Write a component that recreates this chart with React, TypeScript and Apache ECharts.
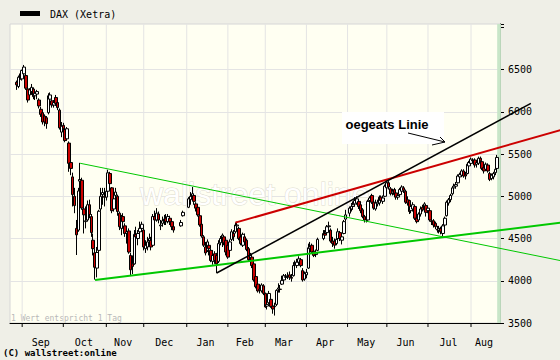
import React, { useEffect, useRef } from 'react';
import * as echarts from 'echarts';

// ---------- axis / labels ----------
const monthNames = ['Jan', 'Feb', 'Mar', 'Apr', 'May', 'Jun', 'Jul', 'Aug', 'Sep', 'Oct', 'Nov', 'Dec'];
const axisStart = '2008-08-22';
const axisEnd = '2009-08-24';
const labelledMonths = ['2008-09', '2008-10', '2008-11', '2008-12', '2009-01', '2009-02', '2009-03', '2009-04', '2009-05', '2009-06', '2009-07', '2009-08'];
const yMin = 3500;
const yMax = 7040;
const yStep = 500;
const yLabelMax = 6500;

// ---------- DAX (Xetra) daily candles: [day, open, close, low, high] ----------
type Row = [number, number, number, number, number];
const aug2008: Row[] = [
  [27, 6350, 6320, 6260, 6370], [28, 6300, 6410, 6280, 6430], [29, 6450, 6400, 6380, 6470],
];
const sep2008: Row[] = [
  [1, 6390, 6490, 6370, 6500], [2, 6450, 6530, 6430, 6555], [3, 6430, 6280, 6260, 6450], [4, 6270, 6140, 6110, 6290],
  [5, 6200, 6260, 6150, 6280], [8, 6240, 6290, 6200, 6330], [9, 6270, 6180, 6150, 6290], [10, 6190, 6220, 6140, 6250],
  [11, 6210, 6240, 6150, 6260], [12, 6140, 6070, 6040, 6160], [15, 6030, 5970, 5940, 6060], [16, 5990, 5880, 5850, 6010],
  [17, 5950, 5880, 5830, 5970], [18, 5930, 5860, 5800, 5950], [19, 5990, 6190, 5970, 6220], [22, 6150, 6200, 6080, 6230],
  [23, 6130, 6080, 6050, 6150], [24, 6080, 6110, 6050, 6140], [25, 6170, 6100, 6070, 6200], [26, 6110, 6050, 6020, 6130],
  [29, 6020, 5810, 5790, 6040], [30, 5760, 5830, 5700, 5880],
];
const oct2008: Row[] = [
  [1, 5840, 5800, 5750, 5870], [2, 5790, 5660, 5640, 5810], [3, 5680, 5800, 5660, 5820], [6, 5630, 5390, 5290, 5650],
  [7, 5400, 5330, 5250, 5480], [8, 5230, 5020, 4880, 5280], [9, 5000, 4890, 4800, 5100], [10, 4620, 4544, 4305, 4720],
  [13, 4600, 5063, 4580, 5100], [14, 5180, 5199, 5050, 5396], [15, 5190, 4861, 4840, 5220], [16, 4850, 4781, 4560, 4900],
  [17, 4700, 4710, 4620, 4880], [20, 4720, 4900, 4700, 4950], [21, 4900, 4784, 4740, 4960], [22, 4760, 4571, 4520, 4790],
  [23, 4480, 4380, 4300, 4560], [24, 4330, 4160, 4014, 4380], [27, 4150, 4335, 4040, 4400], [28, 4360, 4823, 4330, 4840],
  [29, 4850, 5000, 4820, 5100], [30, 5020, 5045, 4900, 5100], [31, 5000, 4988, 4880, 5100],
];
const nov2008: Row[] = [
  [3, 4990, 5060, 4950, 5140], [4, 5060, 5278, 5020, 5315], [5, 5270, 5150, 5080, 5290], [6, 5100, 4830, 4800, 5110],
  [7, 4850, 4970, 4820, 5000], [10, 5010, 5050, 4950, 5100], [11, 5000, 4820, 4770, 5020], [12, 4800, 4640, 4600, 4820],
  [13, 4620, 4750, 4540, 4780], [14, 4760, 4700, 4620, 4800], [17, 4650, 4560, 4520, 4680], [18, 4560, 4580, 4440, 4620],
  [19, 4590, 4340, 4320, 4620], [20, 4300, 4130, 4060, 4330], [21, 4200, 4170, 4080, 4300], [24, 4200, 4550, 4190, 4600],
  [25, 4550, 4520, 4450, 4640], [26, 4500, 4560, 4420, 4600], [27, 4580, 4620, 4550, 4700], [28, 4620, 4669, 4580, 4700],
];
const dec2008: Row[] = [
  [1, 4600, 4400, 4360, 4630], [2, 4380, 4420, 4330, 4480], [3, 4400, 4460, 4360, 4520], [4, 4470, 4500, 4420, 4560],
  [5, 4480, 4400, 4360, 4520], [8, 4420, 4760, 4410, 4790], [9, 4760, 4720, 4660, 4830], [10, 4720, 4800, 4700, 4860],
  [11, 4790, 4720, 4680, 4820], [12, 4650, 4660, 4600, 4720], [15, 4680, 4710, 4640, 4760], [16, 4700, 4730, 4660, 4780],
  [17, 4740, 4700, 4660, 4790], [18, 4700, 4760, 4680, 4790], [19, 4740, 4700, 4660, 4770], [22, 4700, 4640, 4600, 4720],
  [23, 4640, 4600, 4570, 4680], [29, 4650, 4690, 4640, 4720], [30, 4770, 4810, 4760, 4830],
];
const jan2009: Row[] = [
  [2, 4870, 4970, 4860, 4990], [5, 4960, 5000, 4900, 5050], [6, 4990, 5030, 4960, 5110], [7, 5010, 4940, 4900, 5030],
  [8, 4910, 4860, 4820, 4930], [9, 4870, 4780, 4760, 4890], [12, 4770, 4660, 4640, 4790], [13, 4670, 4530, 4510, 4690],
  [14, 4520, 4420, 4400, 4540], [15, 4400, 4330, 4300, 4460], [16, 4360, 4460, 4340, 4490], [19, 4420, 4380, 4300, 4460],
  [20, 4360, 4240, 4220, 4380], [21, 4230, 4300, 4190, 4360], [22, 4320, 4240, 4200, 4350], [23, 4300, 4200, 4090, 4330],
  [26, 4230, 4440, 4210, 4480], [27, 4450, 4500, 4420, 4530], [28, 4460, 4540, 4400, 4560], [29, 4520, 4450, 4420, 4540],
  [30, 4480, 4340, 4300, 4490],
];
const feb2009: Row[] = [
  [2, 4420, 4280, 4260, 4450], [3, 4360, 4460, 4340, 4490], [4, 4490, 4580, 4470, 4610], [5, 4560, 4520, 4470, 4600],
  [6, 4580, 4660, 4560, 4690], [9, 4650, 4660, 4600, 4700], [10, 4620, 4500, 4480, 4640], [11, 4520, 4440, 4420, 4560],
  [12, 4420, 4550, 4400, 4570], [13, 4520, 4460, 4440, 4560], [16, 4480, 4370, 4350, 4500], [17, 4380, 4250, 4230, 4400],
  [18, 4240, 4300, 4200, 4330], [19, 4280, 4180, 4150, 4320], [20, 4200, 4010, 3990, 4240], [23, 4050, 3930, 3910, 4070],
  [24, 3960, 3880, 3860, 3980], [25, 3890, 3900, 3850, 3960], [26, 3880, 3950, 3860, 3970], [27, 3940, 3850, 3830, 3960],
];
const mar2009: Row[] = [
  [2, 3850, 3690, 3680, 3860], [3, 3700, 3720, 3660, 3780], [4, 3740, 3850, 3720, 3880], [5, 3780, 3695, 3680, 3800],
  [6, 3700, 3666, 3610, 3730], [9, 3700, 3693, 3588, 3740], [10, 3720, 3886, 3700, 3900], [11, 3900, 3915, 3860, 3970],
  [12, 3900, 3898, 3860, 3950], [13, 3960, 4002, 3950, 4060], [16, 4010, 4060, 3990, 4080], [17, 4040, 4050, 4010, 4080],
  [18, 4050, 4060, 4020, 4100], [19, 4070, 4040, 4010, 4110], [20, 4040, 4030, 3990, 4080], [23, 4060, 4180, 4050, 4220],
  [24, 4190, 4200, 4150, 4240], [25, 4180, 4220, 4150, 4260], [26, 4220, 4260, 4200, 4290], [27, 4250, 4180, 4160, 4270],
  [30, 4120, 4010, 3990, 4150], [31, 4020, 4084, 4000, 4110],
];
const apr2009: Row[] = [
  [1, 4070, 4100, 4030, 4140], [2, 4150, 4390, 4140, 4440], [3, 4380, 4400, 4340, 4460], [6, 4420, 4340, 4320, 4440],
  [7, 4350, 4300, 4280, 4380], [8, 4310, 4330, 4280, 4370], [9, 4360, 4490, 4350, 4510], [14, 4500, 4560, 4480, 4600],
  [15, 4560, 4540, 4500, 4600], [16, 4570, 4640, 4550, 4660], [17, 4640, 4650, 4600, 4700], [20, 4600, 4470, 4450, 4620],
  [21, 4470, 4440, 4400, 4520], [22, 4470, 4420, 4380, 4500], [23, 4440, 4490, 4420, 4520], [24, 4500, 4580, 4480, 4620],
  [27, 4570, 4500, 4470, 4590], [28, 4480, 4520, 4430, 4560], [29, 4560, 4700, 4550, 4720], [30, 4730, 4780, 4700, 4840],
];
const may2009: Row[] = [
  [4, 4800, 4860, 4760, 4880], [5, 4850, 4880, 4820, 4920], [6, 4880, 4900, 4840, 4940], [7, 4910, 4950, 4880, 4990],
  [8, 4920, 4970, 4900, 5000], [11, 4940, 4880, 4850, 4960], [12, 4900, 4830, 4800, 4920], [13, 4840, 4760, 4740, 4860],
  [14, 4760, 4720, 4690, 4780], [15, 4740, 4737, 4690, 4780], [18, 4720, 4940, 4710, 4960], [19, 4950, 4980, 4920, 5000],
  [20, 5010, 4930, 4910, 5030], [21, 4930, 4860, 4840, 4950], [22, 4850, 4920, 4830, 4960], [25, 4910, 4930, 4880, 4960],
  [26, 4920, 4990, 4890, 5010], [27, 4990, 4950, 4930, 5010], [28, 4940, 4980, 4910, 5010], [29, 5000, 5120, 4990, 5140],
];
const jun2009: Row[] = [
  [1, 5100, 5160, 5080, 5190], [2, 5160, 5110, 5080, 5180], [3, 5090, 5030, 5010, 5110], [4, 5040, 5060, 5010, 5090],
  [5, 5080, 5020, 5000, 5100], [8, 5040, 4990, 4960, 5060], [9, 4990, 5010, 4960, 5040], [10, 5020, 5080, 5000, 5100],
  [11, 5060, 5110, 5040, 5130], [12, 5100, 5070, 5040, 5120], [15, 5060, 4930, 4910, 5080], [16, 4960, 4920, 4890, 5000],
  [17, 4950, 4820, 4790, 4960], [18, 4830, 4880, 4800, 4900], [19, 4850, 4900, 4820, 4930], [22, 4880, 4740, 4720, 4890],
  [23, 4740, 4700, 4680, 4770], [24, 4720, 4790, 4700, 4810], [25, 4790, 4850, 4760, 4880], [26, 4870, 4840, 4820, 4900],
  [29, 4840, 4910, 4820, 4930], [30, 4890, 4810, 4760, 4910],
];
const jul2009: Row[] = [
  [1, 4830, 4860, 4800, 4890], [2, 4830, 4720, 4700, 4840], [3, 4710, 4700, 4660, 4740], [6, 4710, 4660, 4630, 4730],
  [7, 4680, 4640, 4610, 4700], [8, 4610, 4600, 4570, 4650], [9, 4600, 4620, 4560, 4650], [10, 4620, 4580, 4550, 4640],
  [13, 4560, 4650, 4525, 4670], [14, 4660, 4740, 4640, 4760], [15, 4770, 4930, 4760, 4950], [16, 4920, 4960, 4890, 4980],
  [17, 4960, 5010, 4930, 5030], [20, 5030, 5100, 5010, 5120], [21, 5100, 5120, 5060, 5150], [22, 5120, 5140, 5090, 5170],
  [23, 5160, 5240, 5150, 5260], [24, 5230, 5260, 5200, 5280], [27, 5250, 5300, 5230, 5320], [28, 5300, 5240, 5220, 5320],
  [29, 5260, 5240, 5200, 5290], [30, 5270, 5380, 5260, 5400], [31, 5360, 5400, 5330, 5420],
];
const aug2009: Row[] = [
  [3, 5390, 5440, 5370, 5460], [4, 5430, 5420, 5390, 5450], [5, 5430, 5370, 5340, 5450], [6, 5380, 5400, 5340, 5430],
  [7, 5390, 5450, 5370, 5470], [10, 5450, 5420, 5400, 5470], [11, 5410, 5330, 5310, 5420], [12, 5340, 5300, 5270, 5370],
  [13, 5320, 5380, 5300, 5400], [14, 5370, 5300, 5280, 5390], [17, 5270, 5200, 5180, 5290], [18, 5210, 5250, 5190, 5270],
  [19, 5230, 5270, 5200, 5290], [20, 5280, 5320, 5250, 5340], [21, 5330, 5460, 5300, 5490],
];
const candleMonths: [string, Row[]][] = [
  ['2008-08', aug2008], ['2008-09', sep2008], ['2008-10', oct2008], ['2008-11', nov2008], ['2008-12', dec2008],
  ['2009-01', jan2009], ['2009-02', feb2009], ['2009-03', mar2009], ['2009-04', apr2009], ['2009-05', may2009],
  ['2009-06', jun2009], ['2009-07', jul2009], ['2009-08', aug2009],
];

// ---------- hand-drawn trend lines: [weekday index, DAX value] ----------
const trendUpperGreen = [[36.9, 5391], [293.6, 4238]];
const trendLowerGreen = [[44.95, 4009], [293.6, 4688]];
const trendRed = [[120.4, 4688], [293.6, 5785]];
const trendBlack = [[110.2, 4092], [277.6, 6101]];
const todayBand = [260, 261.5];

// ---------- build categories (weekdays) ----------
const pad = (n: number) => (n < 10 ? '0' + n : '' + n);
const iso = (d: Date) => `${d.getUTCFullYear()}-${pad(d.getUTCMonth() + 1)}-${pad(d.getUTCDate())}`;
const categories: string[] = [];
{
  const s = new Date(axisStart + 'T00:00:00Z').getTime();
  const e = new Date(axisEnd + 'T00:00:00Z').getTime();
  for (let t = s; t <= e; t += 86400000) {
    const d = new Date(t);
    const wd = d.getUTCDay();
    if (wd !== 0 && wd !== 6) categories.push(iso(d));
  }
}
const candleByDate: Record<string, number[]> = {};
candleMonths.forEach(([ym, rows]) => {
  rows.forEach(([day, o, c, l, h]) => {
    candleByDate[`${ym}-${pad(day)}`] = [o, c, l, h];
  });
});
const candleData = categories.map((d) => candleByDate[d] || ['-', '-', '-', '-']);

const monthStartIdx: number[] = [];
const monthLabelIdx: number[] = [];
labelledMonths.forEach((ym) => {
  const idxs = categories.map((c, i) => (c.startsWith(ym) ? i : -1)).filter((i) => i >= 0);
  if (!idxs.length) return;
  monthStartIdx.push(idxs[0]);
  monthLabelIdx.push(Math.floor((idxs[0] + idxs[idxs.length - 1]) / 2));
});

const MONO = '"DejaVu Sans Mono", monospace';
const SANS = '"Liberation Sans", Arial, sans-serif';

export default function App() {
  const ref = useRef<HTMLDivElement>(null);
  useEffect(() => {
    if (!ref.current) return;
    const chart = echarts.init(ref.current, null, { renderer: 'svg' });
    const ySplitColors: string[] = [];
    for (let v = yMin; v <= yMax + yStep; v += yStep) {
      ySplitColors.push(v <= yLabelMax ? '#e4e4e4' : 'rgba(0,0,0,0)');
    }
    chart.setOption({
      animation: false,
      backgroundColor: '#efefe7',
      grid: {
        left: 10,
        top: 24,
        width: 490,
        height: 299,
        show: true,
        backgroundColor: '#fffff2',
        borderColor: '#d6d6d6',
        borderWidth: 1,
        containLabel: false,
        outerBoundsMode: 'none',
      },
      xAxis: {
        type: 'category',
        data: categories,
        boundaryGap: true,
        axisLine: { show: true, lineStyle: { color: '#000', width: 1 } },
        axisTick: { show: false },
        axisLabel: { show: false },
        splitLine: { show: false },
      },
      yAxis: {
        type: 'value',
        position: 'right',
        min: yMin,
        max: yMax,
        interval: yStep,
        axisLine: { show: true, lineStyle: { color: '#000', width: 1 } },
        axisTick: { show: true, length: 4, lineStyle: { color: '#000' } },
        axisLabel: {
          formatter: (v: number) => (v <= yLabelMax && v % yStep === 0 ? String(v) : ''),
          color: '#000',
          fontFamily: MONO,
          fontSize: 10,
          margin: 8,
        },
        splitLine: { show: true, lineStyle: { color: ySplitColors, width: 1 } },
      },
      series: [
        {
          type: 'candlestick',
          name: 'DAX (Xetra)',
          data: candleData,
          barWidth: 3,
          z: 3,
          itemStyle: {
            color: '#ffffff',
            color0: '#cc0000',
            borderColor: '#000000',
            borderColor0: '#000000',
            borderWidth: 1,
          },
        },
      ],
    });

    // month grid lines, ticks, labels, the "today" band and the trend lines, placed through the chart's own scales
    const px = (x: number, y: number) => chart.convertToPixel({ xAxisIndex: 0, yAxisIndex: 0 }, [x, y]) as number[];
    const top = px(0, yMax)[1];
    const bottom = px(0, yMin)[1];
    const extra: any[] = [];
    const bandL = px(todayBand[0], yMax)[0];
    const bandR = px(todayBand[1], yMax)[0];
    extra.push({
      type: 'rect', z: 1, silent: true,
      shape: { x: bandL, y: top, width: bandR - bandL, height: bottom - top },
      style: { fill: '#c8e6c8' },
    });
    monthStartIdx.forEach((i) => {
      const x = px(i - 0.5, yMin)[0];
      extra.push({
        type: 'line', z: 1, silent: true,
        shape: { x1: x, y1: top, x2: x, y2: bottom - 1 },
        style: { stroke: '#e4e4e4', lineWidth: 1 },
      });
      extra.push({
        type: 'line', z: 2, silent: true,
        shape: { x1: x, y1: bottom, x2: x, y2: bottom + 4 },
        style: { stroke: '#000', lineWidth: 1 },
      });
    });
    monthLabelIdx.forEach((i) => {
      const x = px(i, yMin)[0];
      const m = parseInt(categories[i].slice(5, 7), 10) - 1;
      extra.push({
        type: 'text', z: 2, x, y: bottom + 19,
        style: {
          text: monthNames[m], fill: '#000', fontFamily: MONO, fontSize: 10,
          align: 'center', verticalAlign: 'middle',
        },
      });
    });
    const trends: [number[][], string, number][] = [
      [trendUpperGreen, '#00c800', 1],
      [trendLowerGreen, '#00c800', 2],
      [trendRed, '#cc0000', 2],
      [trendBlack, '#000000', 1.5],
    ];
    trends.forEach(([pts, color, w]) => {
      const a = px(pts[0][0], pts[0][1]);
      const b = px(pts[1][0], pts[1][1]);
      extra.push({
        type: 'line', z: 5, silent: true,
        shape: { x1: a[0], y1: a[1], x2: b[0], y2: b[1] },
        style: { stroke: color, lineWidth: w },
      });
    });

    chart.setOption({
      graphic: [
        { type: 'rect', shape: { x: 20, y: 11, width: 20, height: 5 }, style: { fill: '#000' } },
        {
          type: 'text', x: 50, y: 14,
          style: { text: 'DAX (Xetra)', fill: '#000', fontFamily: MONO, fontSize: 10, verticalAlign: 'middle' },
        },
        {
          type: 'text', x: 140, y: 194, z: 1, silent: true,
          style: {
            text: 'wallstreet online', fill: '#ffffff', stroke: '#dedcd0', lineWidth: 1,
            fontFamily: SANS, fontSize: 32, verticalAlign: 'middle',
          },
        },
        ...extra,
        {
          type: 'text', x: 11, y: 318,
          style: { text: '1 Wert entspricht 1 Tag', fill: '#b8b8b8', fontFamily: MONO, fontSize: 8, verticalAlign: 'middle' },
        },
        {
          type: 'text', x: 3, y: 353,
          style: {
            text: '(C) wallstreet:online', fill: '#000', fontFamily: MONO, fontSize: 9, fontWeight: 'bold',
            verticalAlign: 'middle',
          },
        },
        { type: 'rect', z: 10, shape: { x: 342, y: 112, width: 102, height: 32 }, style: { fill: '#ffffff' } },
        {
          type: 'text', z: 11, x: 387, y: 124,
          style: {
            text: 'oegeats Linie', fill: '#000', fontFamily: SANS, fontSize: 13, fontWeight: 'bold',
            align: 'center', verticalAlign: 'middle',
          },
        },
        { type: 'line', z: 11, shape: { x1: 408, y1: 133, x2: 445, y2: 142 }, style: { stroke: '#000', lineWidth: 1 } },
        {
          type: 'polyline', z: 11,
          shape: { points: [[432, 145], [445, 142], [440, 137]] },
          style: { stroke: '#000', lineWidth: 1, fill: 'none' },
        },
      ],
    });
    return () => chart.dispose();
  }, []);
  return <div ref={ref} style={{ position: 'fixed', left: 0, top: 0, width: 560, height: 360 }} />;
}
